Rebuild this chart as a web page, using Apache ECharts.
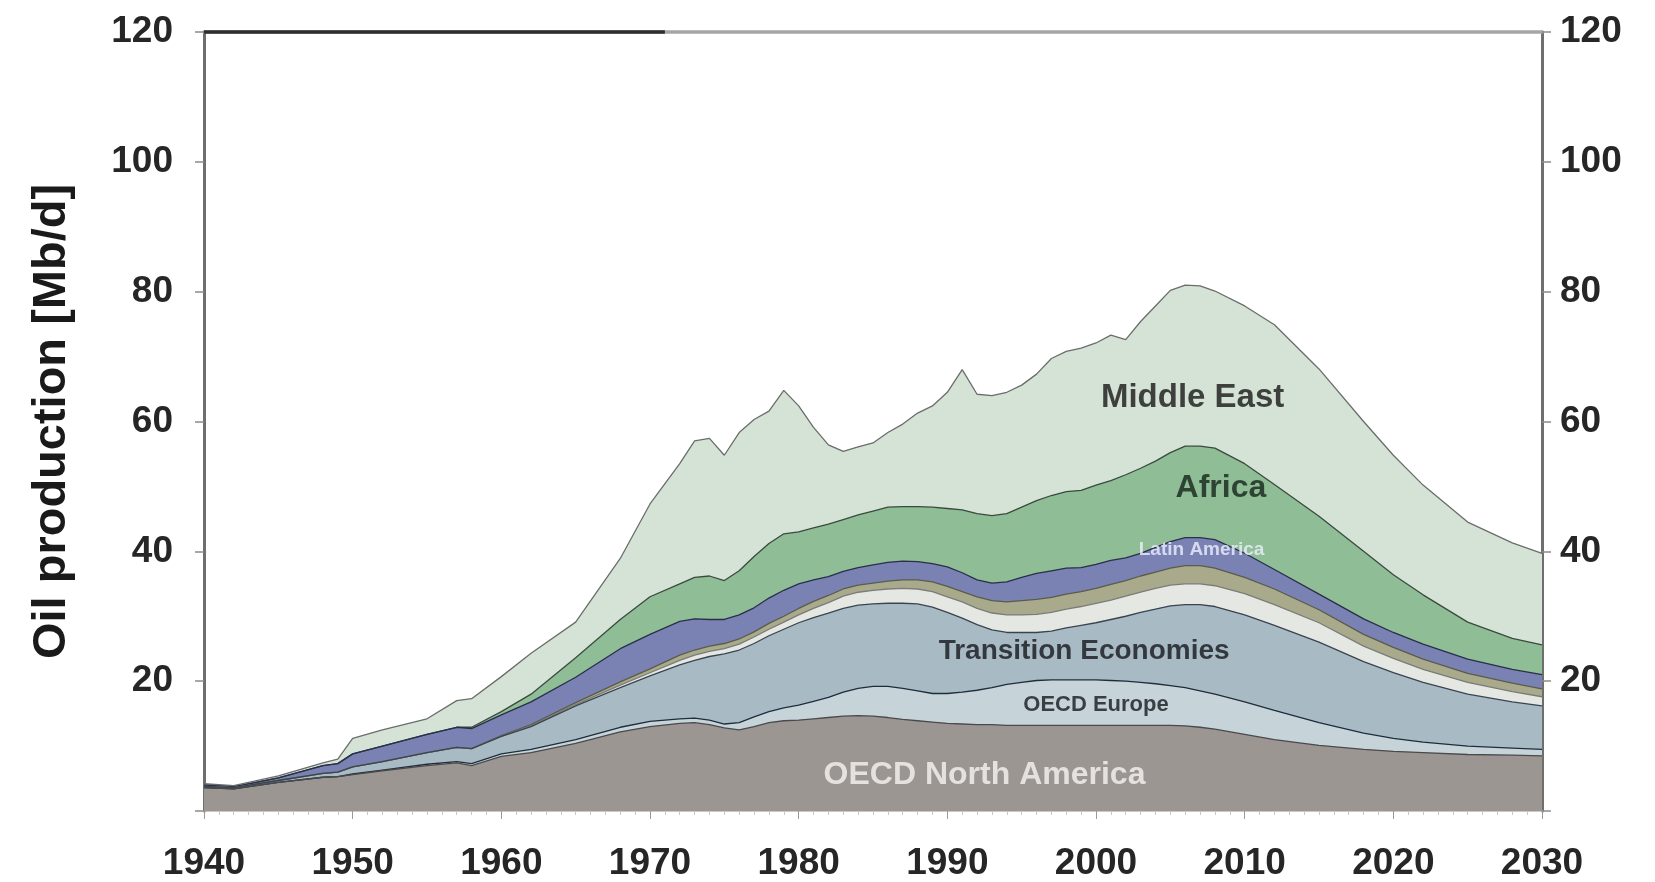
<!DOCTYPE html>
<html>
<head>
<meta charset="utf-8">
<title>Oil production by region</title>
<script src="https://cdn.jsdelivr.net/npm/echarts@6/dist/echarts.min.js"></script>
<style>
  html, body { margin: 0; padding: 0; background: #ffffff; }
  #chart { width: 1655px; height: 882px; }
</style>
</head>
<body>
<div id="chart"></div>
<script>
// Years sampled along the time axis
const years = [1940,1942,1945,1948,1949,1950,1952,1955,1957,1958,1960,1962,1965,1968,1970,1972,1973,1974,1975,1976,1977,1978,1979,1980,1981,1982,1983,1984,1985,1986,1987,1988,1989,1990,1991,1992,1993,1994,1995,1996,1997,1998,1999,2000,2001,2002,2003,2004,2005,2006,2007,2008,2010,2012,2015,2018,2020,2022,2025,2028,2030];

// Production per region, Mb/d (stacked bottom to top)
const oecdNorthAmerica = [3.6,3.4,4.4,5.2,5.3,5.6,6.2,7.0,7.4,7.0,8.4,9.0,10.4,12.2,13.0,13.5,13.6,13.3,12.8,12.5,13.0,13.6,13.9,14.0,14.2,14.4,14.6,14.7,14.6,14.4,14.1,13.9,13.7,13.5,13.4,13.3,13.3,13.2,13.2,13.2,13.2,13.2,13.2,13.2,13.2,13.2,13.2,13.2,13.2,13.1,12.9,12.6,11.8,11.0,10.1,9.5,9.2,9.0,8.7,8.6,8.5];
const oecdEurope = [0,0,0,0,0,0.1,0.1,0.2,0.2,0.3,0.4,0.5,0.6,0.7,0.8,0.7,0.7,0.7,0.6,1.1,1.5,1.7,2.0,2.3,2.7,3.1,3.7,4.2,4.6,4.8,4.8,4.6,4.4,4.6,4.9,5.3,5.7,6.3,6.6,6.9,7.0,7.0,7.0,7.0,6.9,6.8,6.6,6.4,6.1,5.9,5.6,5.4,5.0,4.5,3.5,2.5,2.0,1.6,1.3,1.1,1.0];
const transitionEconomies = [0.2,0.2,0.3,0.6,0.7,1.1,1.3,1.8,2.2,2.3,2.7,3.5,5.2,6.1,7.0,8.3,8.9,9.8,10.8,11.2,11.3,11.7,12.1,12.7,12.9,13.0,12.9,12.8,12.7,12.8,13.1,13.4,13.3,12.5,11.4,10.1,8.9,8.0,7.7,7.4,7.5,8.0,8.4,8.8,9.4,10.0,10.8,11.5,12.3,12.8,13.3,13.5,13.4,13.1,12.4,11.0,10.1,9.2,8.0,7.1,6.7];
const china = [0,0,0,0,0,0,0,0,0,0,0,0.1,0.2,0.4,0.5,0.7,0.8,0.8,0.8,0.9,1.0,1.0,1.1,1.2,1.4,1.6,1.9,2.0,2.1,2.2,2.3,2.3,2.4,2.4,2.5,2.5,2.6,2.7,2.7,2.8,2.9,2.9,2.9,3.0,3.0,3.1,3.1,3.2,3.2,3.2,3.2,3.2,3.3,3.2,3.0,2.4,2.2,2.0,1.8,1.6,1.4];
const eastSouthAsia = [0,0,0,0,0,0,0,0,0,0,0.1,0.2,0.3,0.5,0.6,0.8,0.8,0.8,0.8,0.8,0.8,0.9,0.9,1.0,1.1,1.1,1.1,1.1,1.1,1.2,1.3,1.4,1.5,1.6,1.6,1.8,1.9,2.0,2.2,2.3,2.3,2.3,2.3,2.3,2.4,2.4,2.5,2.5,2.6,2.8,2.8,2.7,2.5,2.4,2.0,1.8,1.7,1.6,1.4,1.3,1.2];
const latinAmerica = [0.2,0.1,0.4,1.2,1.3,2.0,2.4,2.8,3.1,3.1,3.2,3.5,3.9,5.1,5.3,5.2,4.8,4.1,3.7,3.7,3.7,3.9,4.0,3.8,3.3,2.9,2.7,2.7,2.8,2.9,2.9,2.8,2.8,3.0,2.9,2.6,2.7,3.1,3.6,4.0,4.1,4.0,3.7,3.7,3.7,3.5,3.5,3.8,4.1,4.3,4.3,4.4,3.7,3.0,2.4,2.4,2.3,2.3,2.2,2.1,2.2];
const africa = [0,0,0,0,0,0,0,0,0,0.2,0.5,1.2,3.0,4.5,5.8,5.8,6.4,6.7,6.0,6.8,7.9,8.4,8.7,8.0,8.0,8.1,8.0,8.1,8.3,8.5,8.4,8.5,8.7,9.0,9.7,10.2,10.4,10.5,10.8,11.2,11.6,11.8,11.9,12.2,12.3,12.8,13.1,13.3,13.7,14.1,14.1,14.1,13.8,13.1,12.0,10.4,8.9,7.6,5.7,4.8,4.6];
const middleEast = [0.2,0.2,0.3,0.4,0.7,2.4,2.5,2.4,4.1,4.4,5.4,6.3,5.5,9.4,14.3,18.5,21.0,21.2,19.3,21.3,21.1,20.4,22.1,19.4,15.5,12.2,10.5,10.5,10.5,11.5,12.7,14.4,15.6,17.9,21.6,18.4,18.5,18.7,18.8,19.5,21.1,21.6,21.9,21.9,22.4,20.8,22.6,23.9,25.0,24.8,24.7,24.2,24.3,24.6,22.7,20.0,18.4,16.9,15.4,14.7,14.1];

// Axis ticks
const yTicks = [0, 20, 40, 60, 80, 100, 120];
const xTicks = [1940, 1950, 1960, 1970, 1980, 1990, 2000, 2010, 2020, 2030];

// In-chart region labels: text, year, Mb/d position
const labelNames  = ['Middle East', 'Africa', 'Latin America', 'Transition Economies', 'OECD Europe', 'OECD North America'];
const labelYears  = [2006.5, 2008.4, 2007.1, 1999.2, 2000.0, 1992.5];
const labelValues = [63.7, 49.8, 40.3, 24.6, 16.3, 5.5];

const layers = [
  { name: 'OECD North America',   data: oecdNorthAmerica,    fill: '#9c9692', line: '#4a4a4c' },
  { name: 'OECD Europe',          data: oecdEurope,          fill: '#c6d4da', line: '#1f2c3a' },
  { name: 'Transition Economies', data: transitionEconomies, fill: '#a8bbc5', line: '#3a4450' },
  { name: 'China',                data: china,               fill: '#e5e7e3', line: '#7a7c78' },
  { name: 'East & South Asia',    data: eastSouthAsia,       fill: '#a9aa8b', line: '#5a5c4a' },
  { name: 'Latin America',        data: latinAmerica,        fill: '#7a82b3', line: '#2a2e4a' },
  { name: 'Africa',               data: africa,              fill: '#8fbd96', line: '#3b4a3e' },
  { name: 'Middle East',          data: middleEast,          fill: '#d5e3d7', line: '#6a6d6a' }
];

const labelStyles = [
  { fontSize: 33, color: '#161616' },
  { fontSize: 32, color: '#15241a' },
  { fontSize: 19, color: '#eef0ff' },
  { fontSize: 28, color: '#15181d' },
  { fontSize: 22, color: '#15181d' },
  { fontSize: 32, color: '#f6f4f2' }
];

const tickFont = { fontFamily: 'Liberation Sans, Arial, sans-serif', fontSize: 37, fontWeight: 'bold', color: '#262626' };

// Running totals: each region's upper edge sits on the sum of the regions below it.
const running = years.map(function () { return 0; });
const tops = layers.map(function (l) {
  return years.map(function (y, i) {
    running[i] = Math.round((running[i] + l.data[i]) * 100) / 100;
    return [y, running[i]];
  });
});

// Paint from the top region down, each filled to the baseline, so lower regions cover upper fills.
const series = [];
for (let k = layers.length - 1; k >= 0; k--) {
  const l = layers[k];
  series.push({
    name: l.name,
    type: 'line',
    symbol: 'none',
    smooth: false,
    z: 2,
    lineStyle: { width: 1.3, color: l.line },
    areaStyle: { color: l.fill, opacity: 1, origin: 'start' },
    emphasis: { disabled: true },
    data: tops[k]
  });
}

// Region names placed on the areas, plus the darker stretch of the top frame
series.push({
  name: 'labels',
  type: 'scatter',
  symbolSize: 0,
  itemStyle: { color: 'transparent' },
  z: 10,
  silent: true,
  data: labelNames.map(function (n, i) {
    return {
      name: n,
      value: [labelYears[i], labelValues[i]],
      label: {
        show: true,
        position: 'inside',
        formatter: '{b}',
        fontFamily: 'Liberation Sans, Arial, sans-serif',
        fontWeight: 'bold',
        fontSize: labelStyles[i].fontSize,
        color: labelStyles[i].color
      }
    };
  }),
  markLine: {
    silent: true,
    symbol: 'none',
    label: { show: false },
    lineStyle: { color: '#2e2e2e', width: 3.5, type: 'solid' },
    data: [[{ coord: [1940, 120] }, { coord: [1971, 120] }]]
  }
});

const chart = echarts.init(document.getElementById('chart'), null, { renderer: 'canvas' });
chart.setOption({
  backgroundColor: '#ffffff',
  animation: false,
  grid: { left: 204, right: 113, top: 32, bottom: 70, containLabel: false },
  xAxis: [
    {
      type: 'value', min: xTicks[0], max: xTicks[xTicks.length - 1], interval: 10,
      axisLine: { show: true, lineStyle: { color: '#b8b8b8', width: 1.5 } },
      axisTick: { show: true, length: 8, lineStyle: { color: '#9a9a9a' } },
      minorTick: { show: true, splitNumber: 10, length: 4, lineStyle: { color: '#c8c8c8' } },
      splitLine: { show: false },
      axisLabel: Object.assign({ margin: 34, formatter: function (v) { return String(v); } }, tickFont)
    },
    {
      type: 'value', position: 'top', min: xTicks[0], max: xTicks[xTicks.length - 1],
      axisLine: { show: true, onZero: false, lineStyle: { color: '#a6a6a6', width: 3.5 } },
      axisTick: { show: false }, axisLabel: { show: false }, splitLine: { show: false }
    }
  ],
  yAxis: [
    {
      type: 'value', min: yTicks[0], max: yTicks[yTicks.length - 1], interval: 20,
      name: 'Oil production [Mb/d]',
      nameLocation: 'middle',
      nameGap: 128,
      nameTextStyle: { fontFamily: 'Liberation Sans, Arial, sans-serif', fontWeight: 'bold', fontSize: 47, color: '#1a1a1a' },
      axisLine: { show: true, lineStyle: { color: '#6e6e6e', width: 3 } },
      axisTick: { show: true, length: 9, lineStyle: { color: '#8a8a8a', width: 1.5 } },
      splitLine: { show: false },
      axisLabel: Object.assign({ margin: 31, formatter: function (v) { return v === 0 ? '' : String(v); } }, tickFont)
    },
    {
      type: 'value', position: 'right', min: yTicks[0], max: yTicks[yTicks.length - 1], interval: 20,
      axisLine: { show: true, lineStyle: { color: '#6e6e6e', width: 3 } },
      axisTick: { show: true, length: 9, lineStyle: { color: '#8a8a8a', width: 1.5 } },
      splitLine: { show: false },
      axisLabel: Object.assign({ margin: 18, formatter: function (v) { return v === 0 ? '' : String(v); } }, tickFont)
    }
  ],
  series: series
});
</script>
</body>
</html>
